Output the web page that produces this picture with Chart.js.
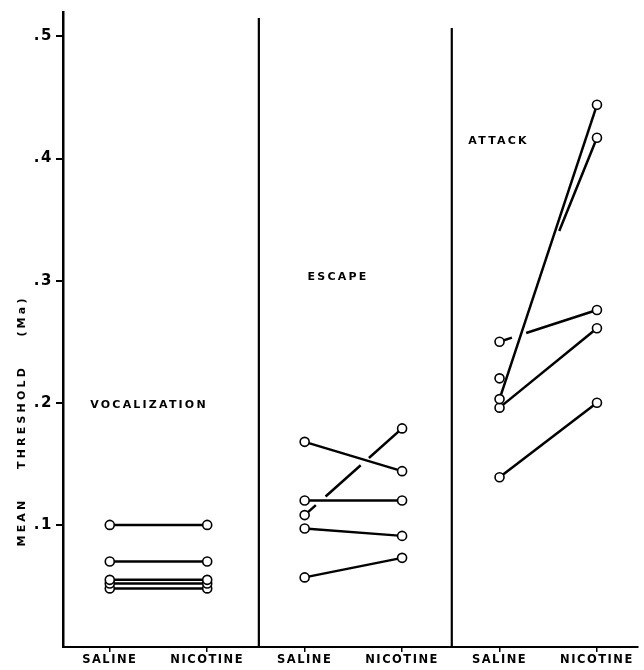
<!DOCTYPE html>
<html>
<head>
<meta charset="utf-8">
<script src="https://cdn.jsdelivr.net/npm/chart.js@4.4.1/dist/chart.umd.min.js"></script>
<style>
  body { margin: 0; background: #fff; }
  canvas { display: block; }
</style>
</head>
<body>
<canvas id="thresholds" width="644" height="670"></canvas>
<script>
// categories along the x axis, one saline/nicotine pair per panel
const xLabels = ['SALINE', 'NICOTINE', 'SALINE', 'NICOTINE', 'SALINE', 'NICOTINE'];
const panels = ['VOCALIZATION', 'ESCAPE', 'ATTACK'];
const yTicks = [0.1, 0.2, 0.3, 0.4, 0.5];
const yTickLabels = ['.1', '.2', '.3', '.4', '.5'];

// mean threshold (mA), one entry per animal
const vocalSaline   = [0.100, 0.070, 0.055, 0.052, 0.048];
const vocalNicotine = [0.100, 0.070, 0.055, 0.052, 0.048];
const escapeSaline   = [0.168, 0.108, 0.120, 0.097, 0.057];
const escapeNicotine = [0.144, 0.179, 0.120, 0.091, 0.073];
const attackSaline   = [0.203, 0.220, 0.250, 0.196, 0.139];
const attackNicotine = [0.444, 0.417, 0.276, 0.261, 0.200];

const pairs = [
  [vocalSaline, vocalNicotine],
  [escapeSaline, escapeNicotine],
  [attackSaline, attackNicotine]
];

// broken lines in the printed figure (where lines cross)
const brokenLines = {
  '1-1': { borderDash: [15, 13, 47, 11, 200] },
  '2-1': { borderDash: [101, 159], borderDashOffset: 101 },
  '2-2': { borderDash: [13, 15, 200] }
};

const datasets = [];
pairs.forEach(([sal, nic], p) => {
  sal.forEach((v, i) => {
    datasets.push(Object.assign({
      data: [{ x: p * 2, y: v }, { x: p * 2 + 1, y: nic[i] }],
      borderColor: '#000',
      borderWidth: 2.5,
      pointRadius: 4.5,
      pointBorderWidth: 1.6,
      pointBackgroundColor: '#fff',
      pointBorderColor: '#000',
      tension: 0
    }, brokenLines[p + '-' + i] || {}));
  });
});

const panelText = {
  id: 'panelText',
  beforeDraw(chart) { chart.ctx.letterSpacing = '1.5px'; },
  beforeDatasetsDraw(chart) {
    const { ctx, chartArea, scales } = chart;
    ctx.save();
    ctx.strokeStyle = '#000';
    ctx.lineWidth = 2.2;
    [1.53, 3.51].forEach((v, k) => {
      const x = scales.x.getPixelForValue(v);
      ctx.beginPath();
      ctx.moveTo(x, chartArea.top + (k ? 16 : 6));
      ctx.lineTo(x, chartArea.bottom);
      ctx.stroke();
    });
    ctx.restore();
  },
  afterDraw(chart) {
    const { ctx, scales } = chart;
    ctx.save();
    ctx.fillStyle = '#000';
    ctx.font = 'bold 11px "DejaVu Sans"';
    ctx.letterSpacing = '2.2px';
    ctx.textBaseline = 'middle';
    ctx.textAlign = 'left';
    const spots = [[-0.2, 0.198], [2.03, 0.303], [3.68, 0.414]];
    panels.forEach((t, p) => {
      ctx.fillText(t, scales.x.getPixelForValue(spots[p][0]), scales.y.getPixelForValue(spots[p][1]));
    });
    // y axis title
    ctx.translate(22, 0);
    ctx.rotate(-Math.PI / 2);
    ctx.textAlign = 'center';
    ctx.letterSpacing = '3.2px';
    [['MEAN', 522], ['THRESHOLD', 417], ['(Ma)', 316]].forEach(([w, y]) => {
      ctx.fillText(w, -y, 0);
    });
    ctx.restore();
    ctx.letterSpacing = '0px';
  }
};

new Chart(document.getElementById('thresholds'), {
  type: 'line',
  data: { datasets },
  plugins: [panelText],
  options: {
    responsive: false,
    animation: false,
    events: [],
    layout: { padding: { top: 12, right: 0, left: 0, bottom: 0 } },
    plugins: { legend: { display: false }, tooltip: { enabled: false } },
    scales: {
      x: {
        type: 'linear',
        min: -0.48,
        max: 5.42,
        afterFit(scale) {
          scale.height = 23;
          scale.paddingLeft = 0;
          scale.paddingRight = 0;
        },
        afterBuildTicks(scale) { scale.ticks = xLabels.map((l, i) => ({ value: i })); },
        ticks: {
          color: '#000',
          padding: 1,
          maxRotation: 0,
          font: { family: 'DejaVu Sans', size: 11.5, weight: 'bold' },
          callback: v => xLabels[v]
        },
        grid: { drawOnChartArea: false, color: '#000', lineWidth: 1.5, tickLength: 5 },
        border: { color: '#000', width: 2 }
      },
      y: {
        type: 'linear',
        min: 0,
        max: 0.52,
        afterFit(scale) { scale.width = 63; },
        afterBuildTicks(scale) { scale.ticks = yTicks.map(v => ({ value: v })); },
        ticks: {
          color: '#000',
          padding: 3,
          font: { family: 'DejaVu Sans', size: 15, weight: 'bold' },
          callback: v => yTickLabels[yTicks.indexOf(v)]
        },
        grid: { drawOnChartArea: false, color: '#000', lineWidth: 2, tickLength: 7 },
        border: { color: '#000', width: 2.5 }
      }
    }
  }
});
</script>
</body>
</html>
